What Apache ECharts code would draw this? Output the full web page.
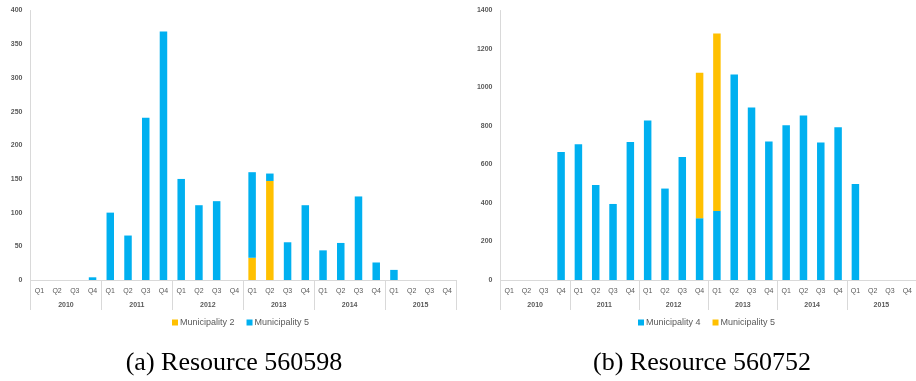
<!DOCTYPE html>
<html>
<head>
<meta charset="utf-8">
<script src="https://cdn.jsdelivr.net/npm/echarts@6/dist/echarts.min.js"></script>
<style>html,body{margin:0;padding:0;background:#fff;}#c{width:916px;height:381px;}</style>
</head>
<body>
<div id="c"></div>
<script>
// ---- data ----
var quarters = ['Q1','Q2','Q3','Q4','Q1','Q2','Q3','Q4','Q1','Q2','Q3','Q4','Q1','Q2','Q3','Q4','Q1','Q2','Q3','Q4','Q1','Q2','Q3','Q4'];
var years = ['2010','2011','2012','2013','2014','2015'];
// Resource 560598
var a_muni2 = [0,0,0,0, 0,0,0,0, 0,0,0,0, 33,147,0,0, 0,0,0,0, 0,0,0,0];
var a_muni5 = [0,0,0,4, 100,66,241,369, 150,111,117,0, 127,11,56,111, 44,55,124,26, 15,0,0,0];
// Resource 560752
var b_muni4 = [0,0,0,665, 705,494,395,717, 828,475,639,321, 359,1067,896,719, 804,854,714,794, 499,0,0,0];
var b_muni5 = [0,0,0,0, 0,0,0,0, 0,0,0,755, 921,0,0,0, 0,0,0,0, 0,0,0,0];
var a_yTicks = {min:0, max:400, interval:50};
var b_yTicks = {min:0, max:1400, interval:200};
var captionA = '(a) Resource 560598';
var captionB = '(b) Resource 560752';

var BLUE = '#00B0F0', ORANGE = '#FFC000', AX = '#D9D9D9', TXT = '#595959';
var FONT = 'Liberation Sans';

function qAxis(gi){
  return {type:'category', gridIndex:gi, data:quarters, position:'bottom',
    axisLine:{show:true, lineStyle:{color:AX, width:1}}, axisTick:{show:false},
    axisLabel:{margin:8, fontSize:7, color:TXT, fontFamily:FONT, interval:0}};
}
function yrAxis(gi){
  return {type:'category', gridIndex:gi, data:years, position:'bottom',
    axisLine:{show:false}, axisTick:{show:true, length:30, lineStyle:{color:AX, width:1}},
    axisLabel:{margin:22, fontSize:7, color:TXT, fontFamily:FONT, fontWeight:'bold', interval:0}};
}
function yAxis(gi, t){
  return {type:'value', gridIndex:gi, min:t.min, max:t.max, interval:t.interval,
    axisLine:{show:true, lineStyle:{color:AX, width:1}}, axisTick:{show:false}, splitLine:{show:false},
    axisLabel:{margin:8, fontSize:7, color:TXT, fontFamily:FONT, fontWeight:'bold',
      formatter:function(v){return String(v);}}};
}
function bar(name, xi, yi, data, color, stack){
  return {name:name, type:'bar', xAxisIndex:xi, yAxisIndex:yi, stack:stack, data:data,
    barWidth:7.5, itemStyle:{color:color}, animation:false};
}

var chart = echarts.init(document.getElementById('c'));
chart.setOption({
  backgroundColor:'#fff',
  animation:false,
  grid:[
    {left:30.5, top:10.5, width:425.5, height:269.5, containLabel:false},
    {left:500.5, top:10.5, width:421.5, height:269.5, containLabel:false}
  ],
  xAxis:[qAxis(0), yrAxis(0), qAxis(1), yrAxis(1)],
  yAxis:[yAxis(0, a_yTicks), yAxis(1, b_yTicks)],
  series:[
    bar('Municipality 2', 0, 0, a_muni2, ORANGE, 'a'),
    bar('Municipality 5', 0, 0, a_muni5, BLUE, 'a'),
    bar('Municipality 4', 2, 1, b_muni4, BLUE, 'b'),
    bar('Municipality 5 (b)', 2, 1, b_muni5, ORANGE, 'b')
  ],
  legend:[
    {left:167, top:313, itemWidth:6, itemHeight:6, itemGap:12, icon:'rect',
     data:['Municipality 2','Municipality 5'],
     textStyle:{fontSize:9, color:TXT, fontFamily:FONT, padding:[0,0,0,-3]}},
    {left:633, top:313, itemWidth:6, itemHeight:6, itemGap:12, icon:'rect',
     data:['Municipality 4','Municipality 5 (b)'],
     formatter:function(n){return n.replace(' (b)','');},
     textStyle:{fontSize:9, color:TXT, fontFamily:FONT, padding:[0,0,0,-3]}}
  ],
  title:[
    {text:captionA, left:229, top:345, textAlign:'center',
     textStyle:{fontFamily:'Liberation Serif', fontSize:26, fontWeight:'normal', color:'#000'}},
    {text:captionB, left:697, top:345, textAlign:'center',
     textStyle:{fontFamily:'Liberation Serif', fontSize:26, fontWeight:'normal', color:'#000'}}
  ]
});
</script>
</body>
</html>
